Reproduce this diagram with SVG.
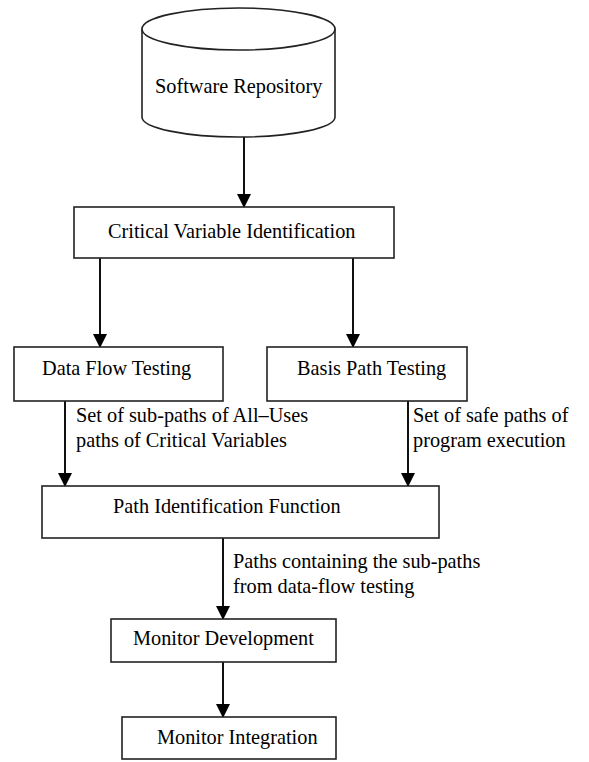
<svg xmlns="http://www.w3.org/2000/svg" width="589" height="762" viewBox="0 0 589 762">
<style>
text{font-family:"Liberation Serif","Times New Roman",serif;font-size:20.3px;fill:#000}
.box{fill:#fff;stroke:#222;stroke-width:1.6}
.edge{stroke:#111;stroke-width:2;fill:none;marker-end:url(#ah)}
</style>
<defs>
<marker id="ah" markerUnits="userSpaceOnUse" markerWidth="14" markerHeight="14" refX="13" refY="7" orient="auto" viewBox="0 0 14 14">
<path d="M0,0 L14,7 L0,14 Z" fill="#000"/>
</marker>
</defs>
<rect width="589" height="762" fill="#fff"/>
<g id="connectors">
<line class="edge" x1="244" y1="137" x2="244" y2="207"/>
<line class="edge" x1="100" y1="258" x2="100" y2="347"/>
<line class="edge" x1="353" y1="258" x2="353" y2="347"/>
<line class="edge" x1="65" y1="401" x2="65" y2="486"/>
<line class="edge" x1="408" y1="401" x2="408" y2="486"/>
<line class="edge" x1="223" y1="538" x2="223" y2="619"/>
<line class="edge" x1="223" y1="662" x2="223" y2="717"/>
<text x="76" y="422">Set of sub-paths of All–Uses</text>
<text x="76" y="447">paths of Critical Variables</text>
<text x="413" y="422">Set of safe paths of</text>
<text x="413" y="447">program execution</text>
<text x="233" y="568">Paths containing the sub-paths</text>
<text x="233" y="593">from data-flow testing</text>
</g>
<g id="repo">
<path class="box" d="M142,29 L142,117 A96.5,20 0 0 0 335,117 L335,29"/>
<ellipse class="box" cx="238.5" cy="29" rx="96.5" ry="21"/>
<text x="155" y="93">Software Repository</text>
</g>
<g id="cvi">
<rect class="box" x="74" y="207" width="320" height="51"/>
<text x="108" y="238">Critical Variable Identification</text>
</g>
<g id="dft">
<rect class="box" x="14" y="347" width="209" height="54"/>
<text x="42" y="375">Data Flow Testing</text>
</g>
<g id="bpt">
<rect class="box" x="267" y="347" width="200" height="54"/>
<text x="297" y="375">Basis Path Testing</text>
</g>
<g id="pif">
<rect class="box" x="42" y="486" width="397" height="52"/>
<text x="113" y="513">Path Identification Function</text>
</g>
<g id="md">
<rect class="box" x="111" y="619" width="225" height="43"/>
<text x="133" y="645">Monitor Development</text>
</g>
<g id="mi">
<rect class="box" x="122" y="717" width="214" height="42"/>
<text x="157" y="744">Monitor Integration</text>
</g>
</svg>
